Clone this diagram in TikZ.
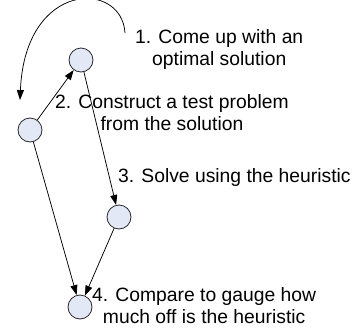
\documentclass[tikz,border=0pt]{standalone}
\usepackage{fontspec}
\setmainfont{Liberation Sans}
\usetikzlibrary{arrows.meta, positioning}
\definecolor{nodefill}{RGB}{226,232,245}
\definecolor{dark}{RGB}{40,40,40}

\begin{document}
\begin{tikzpicture}[
    x=1pt, y=-1pt,
    state/.style={circle, minimum size=24pt, inner sep=0pt, fill=nodefill, draw=dark, line width=0.8pt},
    label/.style={anchor=base west, inner sep=0pt, align=center, font=\fontsize{19.3}{22}\selectfont},
    arr/.style={-{Triangle[length=10pt,width=7pt]}, line width=0.75pt, black},
]
\useasboundingbox (0,0) rectangle (354,333);

\node[state] (opt) at (81,60) {};
\node[state] (prob) at (30,130) {};
\node[state] (heur) at (119,217) {};
\node[state] (cmp) at (80,307) {};

% base anchor sits on the last line
\node[label] (t1) at (135,65) {1. Come up with an\\optimal solution};
\node[label] (t2) at (55,130) {2. Construct a test problem\\from the solution};
\node[label] (t3) at (118,182) {3. Solve using the heuristic};
\node[label] (t4) at (92,323) {4. Compare to gauge how\\much off is the heuristic};

\coordinate (loopstart) at (125,33);
\coordinate (loopend) at (20,100);

\draw[arr] (loopstart) .. controls (122,-20) and (25,-20) .. (loopend);
\draw[arr] (prob) -- (opt);
\draw[arr] (opt) -- (heur);
\draw[arr] (heur) -- (cmp);
\draw[arr] (prob) -- (cmp);

\end{tikzpicture}
\end{document}
